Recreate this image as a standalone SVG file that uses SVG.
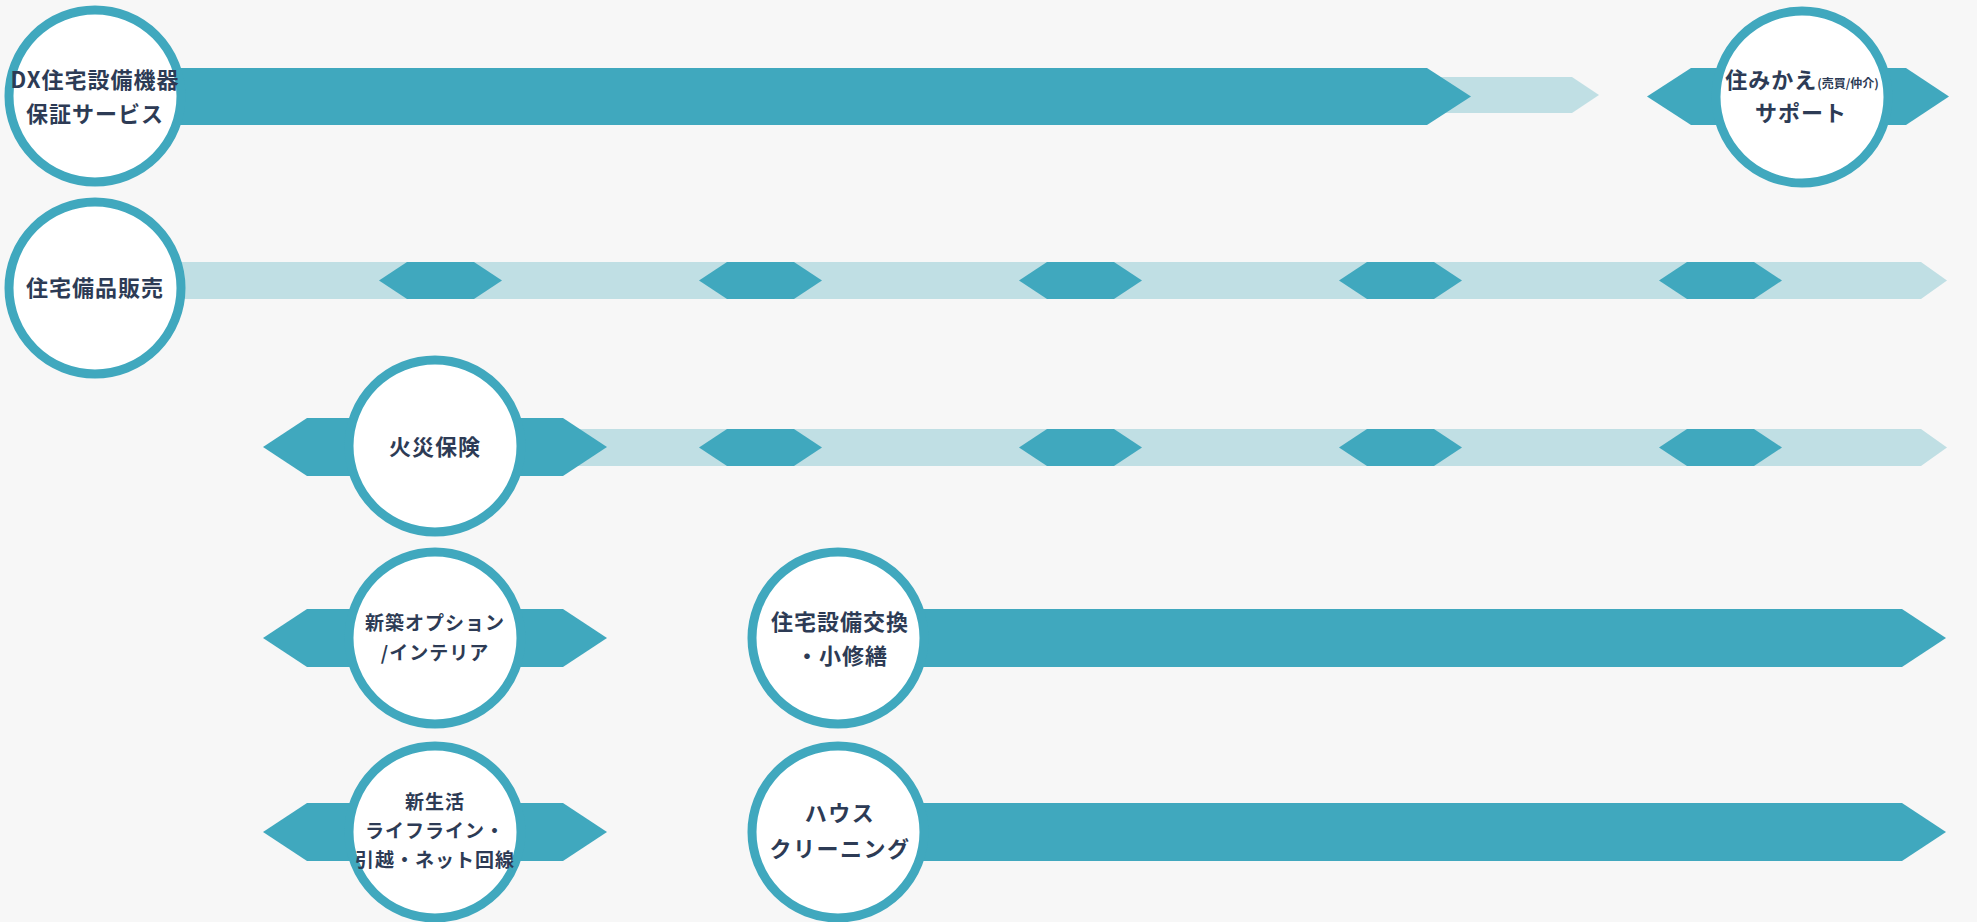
<svg xmlns="http://www.w3.org/2000/svg" xmlns:xlink="http://www.w3.org/1999/xlink" width="1977" height="922" viewBox="0 0 1977 922">
<style>
.bg{fill:#f7f7f7}
.dark{fill:#40a8be}
.light{fill:#c0dfe4}
.ring{fill:#ffffff;stroke:#40a8be;stroke-width:9}
.t{font-family:"Noto Sans CJK JP","Noto Sans",sans-serif;font-weight:bold;fill:#2d3b55;text-anchor:middle;letter-spacing:1px}
.l{font-size:22px}
.m{font-size:19px}
.s{font-size:12px;letter-spacing:0}
</style>
<defs>
<path id="hex" d="M0,0 L28,-18.5 H95 L123,0 L95,18.5 H28 Z"/>
</defs>
<rect class="bg" x="0" y="0" width="1977" height="922"/>
<g id="connectors">
<path class="light" d="M1400,77 H1572 L1599,95 L1572,113 H1400 Z"/>
<path class="dark" d="M150,68 H1427 L1471,96.5 L1427,125 H150 Z"/>
<path class="dark" d="M1647,96.5 L1691,68 H1906 L1949,96.5 L1906,125 H1691 Z"/>
<path class="light" d="M150,262 H1921 L1947,280.5 L1921,299 H150 Z"/>
<use class="dark" href="#hex" x="379" y="280.5"/>
<use class="dark" href="#hex" x="699" y="280.5"/>
<use class="dark" href="#hex" x="1019" y="280.5"/>
<use class="dark" href="#hex" x="1339" y="280.5"/>
<use class="dark" href="#hex" x="1659" y="280.5"/>
<path class="light" d="M560,429 H1921 L1947,447.5 L1921,466 H560 Z"/>
<use class="dark" href="#hex" x="699" y="447.5"/>
<use class="dark" href="#hex" x="1019" y="447.5"/>
<use class="dark" href="#hex" x="1339" y="447.5"/>
<use class="dark" href="#hex" x="1659" y="447.5"/>
<path class="dark" d="M263,447 L307,418 H563 L607,447 L563,476 H307 Z"/>
<path class="dark" d="M263,638 L307,609 H563 L607,638 L563,667 H307 Z"/>
<path class="dark" d="M840,609 H1902 L1946,638 L1902,667 H840 Z"/>
<path class="dark" d="M263,832 L307,803 H563 L607,832 L563,861 H307 Z"/>
<path class="dark" d="M840,803 H1902 L1946,832 L1902,861 H840 Z"/>
</g>
<g id="node-dx">
<circle class="ring" cx="95" cy="96" r="86"/>
<text class="t l" x="95" y="88">DX住宅設備機器</text>
<text class="t l" x="95" y="122">保証サービス</text>
</g>
<g id="node-sumikae">
<circle class="ring" cx="1802" cy="97" r="86"/>
<text class="t l" x="1802" y="88">住みかえ<tspan class="s">(売買/仲介)</tspan></text>
<text class="t l" x="1801" y="121">サポート</text>
</g>
<g id="node-bihin">
<circle class="ring" cx="95" cy="288" r="86"/>
<text class="t l" x="95" y="296">住宅備品販売</text>
</g>
<g id="node-kasai">
<circle class="ring" cx="435" cy="446" r="86"/>
<text class="t l" x="435" y="455">火災保険</text>
</g>
<g id="node-shinchiku">
<circle class="ring" cx="435" cy="638" r="86"/>
<text class="t m" x="435" y="630">新築オプション</text>
<text class="t m" x="435" y="660">/インテリア</text>
</g>
<g id="node-koukan">
<circle class="ring" cx="838" cy="638" r="86"/>
<text class="t l" x="840" y="630">住宅設備交換</text>
<text class="t l" x="842" y="664">・小修繕</text>
</g>
<g id="node-shinseikatsu">
<circle class="ring" cx="435" cy="832" r="86"/>
<text class="t m" x="435" y="809">新生活</text>
<text class="t m" x="435" y="838">ライフライン・</text>
<text class="t m" x="435" y="867">引越・ネット回線</text>
</g>
<g id="node-house">
<circle class="ring" cx="838" cy="832" r="86"/>
<text class="t l" x="840" y="821" style="letter-spacing:1.5px">ハウス</text>
<text class="t l" x="840" y="857" style="letter-spacing:1.5px">クリーニング</text>
</g>
</svg>
